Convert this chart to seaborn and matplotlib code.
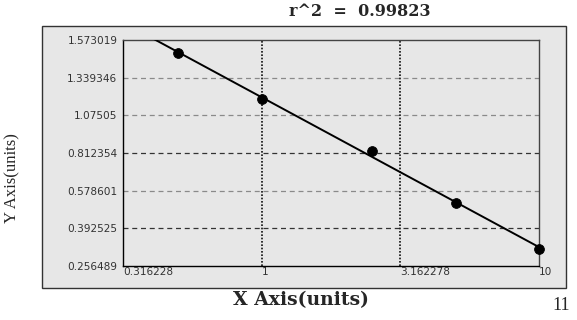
import numpy as np
import pandas as pd
import matplotlib
matplotlib.use("Agg")
import matplotlib.pyplot as plt
from matplotlib.patches import Rectangle
import seaborn as sns

# ---- data ----
x_vals = [0.5, 1.0, 2.5, 5.0, 10.0]
y_vals = [1.491, 1.189, 0.826, 0.517, 0.318]
x_ticks = [0.316228, 1, 3.162278, 10]
x_tick_labels = ["0.316228", "1", "3.162278", "10"]
y_ticks = [0.256489, 0.392525, 0.578601, 0.812354, 1.07505, 1.339346, 1.573019]
y_tick_labels = ["0.256489", "0.392525", "0.578601", "0.812354", "1.07505", "1.339346", "1.573019"]
r2_text = "r^2  =  0.99823"
page_number = "11"

sns.set_theme(style="white")

yt = np.array(y_ticks)
pos = np.arange(len(yt), dtype=float)


def fwd(v):
    v = np.asarray(v, dtype=float)
    out = np.interp(v, yt, pos)
    lo = v < yt[0]
    hi = v > yt[-1]
    out = np.where(lo, (v - yt[0]) / (yt[1] - yt[0]), out)
    out = np.where(hi, pos[-1] + (v - yt[-1]) / (yt[-1] - yt[-2]), out)
    return out


def inv(p):
    p = np.asarray(p, dtype=float)
    out = np.interp(p, pos, yt)
    lo = p < 0
    hi = p > pos[-1]
    out = np.where(lo, yt[0] + p * (yt[1] - yt[0]), out)
    out = np.where(hi, yt[-1] + (p - pos[-1]) * (yt[-1] - yt[-2]), out)
    return out


# fit in display space (log x vs scaled y)
lx = np.log10(x_vals)
coef = np.polyfit(lx, fwd(y_vals), 1)
lx_line = np.linspace(np.log10(x_ticks[0]), np.log10(x_ticks[-1]), 200)
fit_df = pd.DataFrame({"x": 10 ** lx_line, "y": inv(np.polyval(coef, lx_line))})
pts_df = pd.DataFrame({"x": x_vals, "y": y_vals})

fig = plt.figure(figsize=(5.77, 3.2), dpi=100)
fig.patch.set_facecolor("white")

panel_color = "#e7e7e7"
bg = Rectangle((42 / 577, 1 - 288 / 320), (566 - 42) / 577, (288 - 26) / 320,
               transform=fig.transFigure, facecolor=panel_color,
               edgecolor="#333333", linewidth=1.0, zorder=-10)
fig.patches.append(bg)

ax = fig.add_axes([123 / 577, 1 - 266 / 320, (539 - 123) / 577, (266 - 40) / 320])
ax.set_zorder(5)
ax.set_facecolor(panel_color)
ax.set_xscale("log")
ax.set_yscale("function", functions=(fwd, inv))
ax.set_xlim(x_ticks[0], x_ticks[-1])
ax.set_ylim(y_ticks[0], y_ticks[-1])

# grid lines
for i, yv in enumerate(y_ticks[1:-1], start=1):
    c = "#333333" if i in (1, 3) else "#8a8a8a"
    ax.axhline(yv, color=c, linestyle=(0, (4, 3)), linewidth=0.9, zorder=1)
for xv in x_ticks[1:-1]:
    ax.axvline(xv, color="#111111", linestyle=(0, (1, 1)), linewidth=1.2, zorder=1)

sns.lineplot(data=fit_df, x="x", y="y", color="black", linewidth=1.4, ax=ax, zorder=3,
             sort=True, estimator=None)
sns.scatterplot(data=pts_df, x="x", y="y", color="black", s=50, marker="o",
                edgecolor="black", ax=ax, zorder=4, clip_on=False)

ax.set_xticks(x_ticks)
ax.set_xticklabels(x_tick_labels)
ax.xaxis.set_minor_locator(matplotlib.ticker.NullLocator())
ax.set_yticks(y_ticks)
ax.set_yticklabels(y_tick_labels)
ax.yaxis.set_minor_locator(matplotlib.ticker.NullLocator())
ax.tick_params(axis="both", length=0, labelsize=7.6, colors="#333333")
ax.tick_params(axis="y", pad=4)
ax.tick_params(axis="x", pad=1)
for lbl in ax.get_xticklabels():
    lbl.set_horizontalalignment("left")
ax.set_xlabel("")
ax.set_ylabel("")

for side in ("left", "bottom"):
    ax.spines[side].set_color("black")
    ax.spines[side].set_linewidth(1.0)
for side in ("top", "right"):
    ax.spines[side].set_color("#444444")
    ax.spines[side].set_linewidth(1.0)

fig.text(301 / 577, 1 - 300 / 320, "X Axis(units)", ha="center", va="center",
         fontsize=13.5, fontweight="bold", family="DejaVu Serif")
fig.text(12 / 577, 1 - 178 / 320, "Y Axis(units)", ha="center", va="center",
         rotation=90, fontsize=12, family="Liberation Serif")
fig.text(360 / 577, 1 - 12 / 320, r2_text, ha="center", va="center",
         fontsize=11.5, fontweight="bold", family="DejaVu Serif")
fig.text(561 / 577, 1 - 305 / 320, page_number, ha="center", va="center",
         fontsize=13, family="Liberation Serif")

fig.savefig("out.png", dpi=100, facecolor="white")
